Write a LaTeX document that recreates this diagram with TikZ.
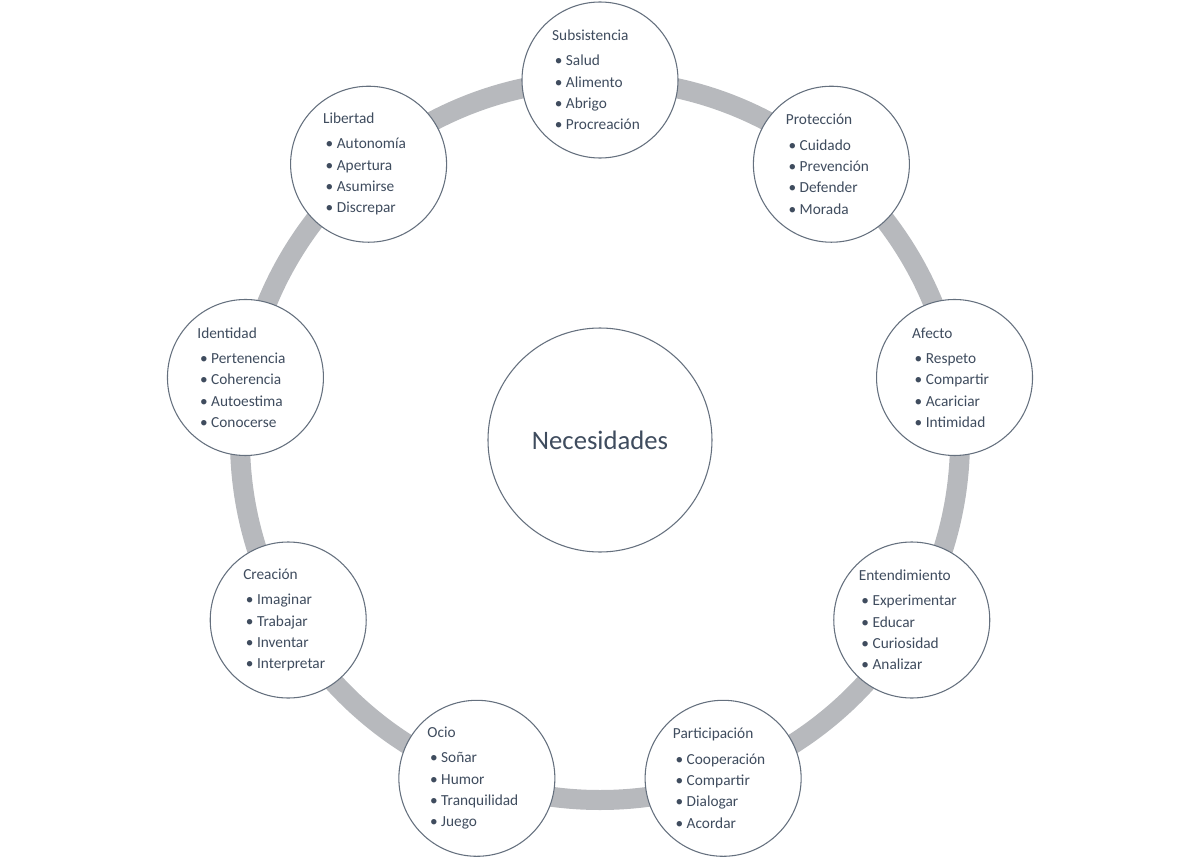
\documentclass[tikz,border=0pt]{standalone}
\usepackage{fontspec}
\setmainfont{Carlito}
\usetikzlibrary{positioning}
\definecolor{ringgray}{HTML}{B7B9BD}
\definecolor{textslate}{HTML}{3F4C5E}
\tikzset{
  need/.style={draw=textslate!80,line width=0.8pt,circle,fill=white,minimum size=117pt,inner sep=0pt},
  items/.style={align=left,text=textslate,font=\fontsize{11.5}{16}\selectfont},
}
\begin{document}
\begin{tikzpicture}[x=0.75pt,y=0.75pt]
  \useasboundingbox (-600,-418) rectangle (600,440);
  \draw[ringgray,line width=15pt] (0,0) circle (360);
  \node[need,minimum size=168pt] (center) at (0,0) {};
  \node[text=textslate,font=\fontsize{20}{24}\selectfont] (title) at (center) {Necesidades};
  \foreach \ang/\name/\head/\a/\b/\c/\d in {
      90/sub/Subsistencia/Salud/Alimento/Abrigo/Procreación,
      50/pro/Protección/Cuidado/Prevención/Defender/Morada,
      10/afe/Afecto/Respeto/Compartir/Acariciar/Intimidad,
      -30/ent/Entendimiento/Experimentar/Educar/Curiosidad/Analizar,
      -70/par/Participación/Cooperación/Compartir/Dialogar/Acordar,
      -110/oci/Ocio/Soñar/Humor/Tranquilidad/Juego,
      -150/cre/Creación/Imaginar/Trabajar/Inventar/Interpretar,
      170/ide/Identidad/Pertenencia/Coherencia/Autoestima/Conocerse,
      130/lib/Libertad/Autonomía/Apertura/Asumirse/Discrepar}{
    \node[need] (\name) at (\ang:360) {};
    \node[items] (\name-txt) at ([xshift=-3]\name) {\head\\[3pt]
      \hspace*{2pt}• \a\\ \hspace*{2pt}• \b\\ \hspace*{2pt}• \c\\ \hspace*{2pt}• \d};
  }
\end{tikzpicture}
\end{document}
